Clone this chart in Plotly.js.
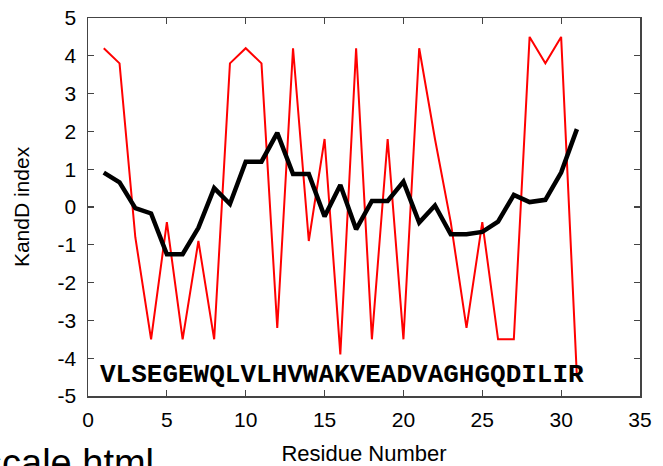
<!DOCTYPE html>
<html><head><meta charset="utf-8">
<script src="https://cdn.plot.ly/plotly-3.0.1.min.js"></script>
<style>html,body{margin:0;padding:0;background:#fff;overflow:hidden}#chart{width:663px;height:466px}</style>
</head><body><div id="chart"></div>
<script>
const residues = [1,2,3,4,5,6,7,8,9,10,11,12,13,14,15,16,17,18,19,20,21,22,23,24,25,26,27,28,29,30,31];
const sequence = "VLSEGEWQLVLHVWAKVEADVAGHGQDILIR";
const kdValues = [4.2,3.8,-0.8,-3.5,-0.4,-3.5,-0.9,-3.5,3.8,4.2,3.8,-3.2,4.2,-0.9,1.8,-3.9,4.2,-3.5,1.8,-3.5,4.2,1.8,-0.4,-3.2,-0.4,-3.5,-3.5,4.5,3.8,4.5,-4.5];
const smoothValues = [0.91,0.65,-0.03,-0.17,-1.25,-1.25,-0.55,0.5,0.08,1.2,1.2,1.96,0.87,0.87,-0.25,0.58,-0.59,0.16,0.16,0.67,-0.41,0.04,-0.72,-0.72,-0.66,-0.39,0.32,0.13,0.19,0.91,2.06];
const xTicks = [0,5,10,15,20,25,30,35];
const yTicks = [-5,-4,-3,-2,-1,0,1,2,3,4,5];

const traces = [
  {x: residues, y: kdValues, mode: 'lines', line: {color: '#ff0000', width: 2}, hoverinfo: 'skip'},
  {x: residues, y: smoothValues, mode: 'lines', line: {color: '#000000', width: 4.5}, hoverinfo: 'skip'}
];

const sans = 'Liberation Sans, Arial, sans-serif';
const axisCommon = {
  showline: true, linecolor: '#444', linewidth: 1.5, mirror: 'allticks',
  ticks: 'inside', ticklen: 6, tickcolor: '#444', tickwidth: 1.2,
  showgrid: false, zeroline: false,
  tickfont: {family: sans, size: 21, color: '#000'}
};

const pw = 663 - 88 - 23, ph = 466 - 18 - 70;
const layout = {
  width: 663, height: 466,
  margin: {l: 88, r: 23, t: 18, b: 70},
  paper_bgcolor: '#fff', plot_bgcolor: '#fff',
  showlegend: false,
  xaxis: Object.assign({}, axisCommon, {
    range: [0, 35], tickvals: xTicks, ticktext: xTicks.map(String), ticklabelstandoff: 4,
    title: {text: 'Residue Number', font: {family: sans, size: 22, color: '#000'}, standoff: 19}
  }),
  yaxis: Object.assign({}, axisCommon, {
    range: [-5, 5], tickvals: yTicks, ticktext: yTicks.map(String), ticklabelstandoff: 6,
    title: {text: 'KandD index', font: {family: sans, size: 21, color: '#000'}, standoff: 22}
  }),
  annotations: [
    {x: 16.1, y: -4.45, xref: 'x', yref: 'y', text: '<b>' + sequence + '</b>', showarrow: false,
     xanchor: 'center', yanchor: 'middle',
     font: {family: 'Liberation Mono, Courier New, monospace', size: 26, color: '#000'}},
    {x: (156 - 88) / pw, y: 1 - (440 - 18) / ph, xref: 'paper', yref: 'paper', text: 'scale.html', showarrow: false,
     xanchor: 'right', yanchor: 'top',
     font: {family: sans, size: 38, color: '#000'}}
  ]
};

Plotly.newPlot('chart', traces, layout, {displayModeBar: false, staticPlot: true});
</script></body></html>
